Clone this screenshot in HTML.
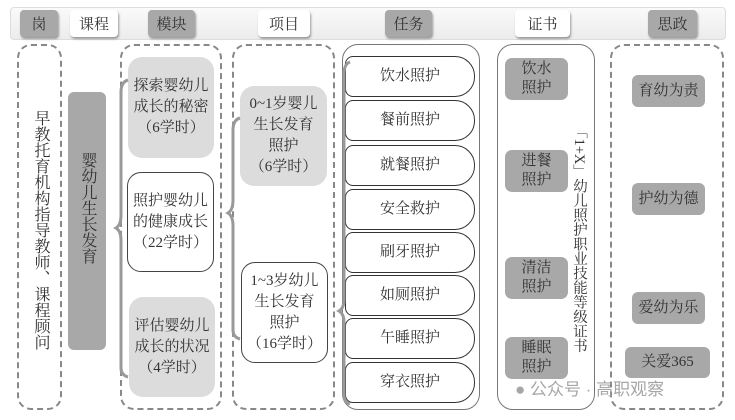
<!DOCTYPE html>
<html><head><meta charset="utf-8"><style>
body{margin:0;width:735px;height:420px;background:#fff;position:relative;overflow:hidden;font-family:"Liberation Serif","Noto Serif CJK SC",serif;color:#333}
div{position:absolute;box-sizing:border-box}
.hdr{left:10px;top:7px;width:716px;height:33px;background:linear-gradient(#fafafa,#ececec);border:1px solid #ddd;border-radius:4px}
.tab{top:10px;height:27px;font-size:15px;display:flex;align-items:center;justify-content:center;border-radius:4px;box-shadow:1px 2px 2px #999}
.g{background:#a8a8a8}.w{background:#fff}
.dash{top:44px;height:366px;border:2px dashed #888;border-radius:14px}
.solid{top:44px;height:366px;border:1.5px solid #777;border-radius:16px}
.c{display:flex;align-items:center;justify-content:center;text-align:center;font-size:15px;line-height:21px}
.lg{background:#dcdcdc;border-radius:14px}
.wb{background:#fff;border:1.5px solid #444;border-radius:14px}
.task{left:345px;width:130px;height:41px;border:1.5px solid #333;border-radius:8px 20px 20px 8px;font-size:15px}
.cert{left:505px;width:63px;height:42px;background:#a8a8a8;border-radius:7px;font-size:15px;line-height:19px}
.sz{background:#a8a8a8;border-radius:6px;font-size:15px}
.v{writing-mode:vertical-rl;text-align:center;white-space:nowrap}
</style></head><body>
<div class="hdr"></div>
<div class="tab g" style="left:20px;width:38px">岗</div>
<div class="tab w" style="left:70px;width:48px">课程</div>
<div class="tab g" style="left:148px;width:47px">模块</div>
<div class="tab w" style="left:258px;width:52px">项目</div>
<div class="tab g" style="left:385px;width:47px">任务</div>
<div class="tab w" style="left:515px;width:55px">证书</div>
<div class="tab g" style="left:648px;width:49px">思政</div>

<div class="dash" style="left:17px;width:45px"></div>
<div class="v" style="left:28px;top:110px;width:24px;height:228px;font-size:16px;line-height:24px">早教托育机构指导教师、课程顾问</div>
<div class="v" style="left:68px;top:92px;width:38px;height:258px;background:#a8a8a8;border-radius:6px;font-size:16px;line-height:38px;padding-top:60px;text-align:start">婴幼儿生长发育</div>

<div class="dash" style="left:120px;width:102px"></div>
<div class="c lg" style="left:128px;top:57px;width:86px;height:101px">探索婴幼儿<br>成长的秘密<br>（6学时）</div>
<div class="c wb" style="left:127px;top:172px;width:87px;height:100px">照护婴幼儿<br>的健康成长<br>（22学时）</div>
<div class="c lg" style="left:129px;top:297px;width:86px;height:100px">评估婴幼儿<br>成长的状况<br>（4学时）</div>

<div class="dash" style="left:232px;width:103px"></div>
<div class="c lg" style="left:240px;top:86px;width:87px;height:100px">0~1岁婴儿<br>生长发育<br>照护<br>（6学时）</div>
<div class="c wb" style="left:241px;top:262px;width:87px;height:101px">1~3岁幼儿<br>生长发育<br>照护<br>（16学时）</div>

<div class="solid" style="left:342px;width:138px"></div>
<div class="c task" style="top:56px">饮水照护</div>
<div class="c task" style="top:100px">餐前照护</div>
<div class="c task" style="top:145px">就餐照护</div>
<div class="c task" style="top:189px">安全救护</div>
<div class="c task" style="top:232px">刷牙照护</div>
<div class="c task" style="top:275px">如厕照护</div>
<div class="c task" style="top:318px">午睡照护</div>
<div class="c task" style="top:362px">穿衣照护</div>

<svg style="position:absolute;left:0;top:0" width="735" height="420">
<g fill="none" stroke="#999" stroke-width="3">
<path d="M128 80 Q121 82 121 92 L121 215 Q121 225 116 228 Q121 231 121 240 L121 368 Q121 375 128 377"/>
<path d="M240 118 Q233 120 233 130 L233 200 Q233 210 228 213 Q233 216 233 226 L233 330 Q233 337 240 339"/>
<path d="M350 62 Q344 64 344 74 L344 300 Q344 308 339 311 Q344 314 344 322 L344 395 Q344 402 350 404"/>
</g></svg>

<div class="solid" style="left:497px;width:98px"></div>
<div class="c cert" style="top:58px">饮水<br>照护</div>
<div class="c cert" style="top:150px">进餐<br>照护</div>
<div class="c cert" style="top:257px">清洁<br>照护</div>
<div class="c cert" style="top:337px">睡眠<br>照护</div>
<div class="v" style="left:568px;top:118px;width:22px;height:240px;font-size:14.5px;line-height:22px">「1+X」幼儿照护职业技能等级证书</div>

<div class="dash" style="left:610px;width:114px"></div>
<div class="c sz" style="left:632px;top:75px;width:73px;height:32px">育幼为责</div>
<div class="c sz" style="left:632px;top:183px;width:73px;height:32px">护幼为德</div>
<div class="c sz" style="left:632px;top:292px;width:73px;height:32px">爱幼为乐</div>
<div class="c sz" style="left:625px;top:347px;width:85px;height:31px">关爱365</div>

<div style="left:515px;top:375px;font-family:'Liberation Sans','Noto Sans CJK SC',sans-serif;font-size:17px;color:rgba(150,150,150,0.85);white-space:nowrap">● 公众号 · 高职观察</div>
</body></html>
